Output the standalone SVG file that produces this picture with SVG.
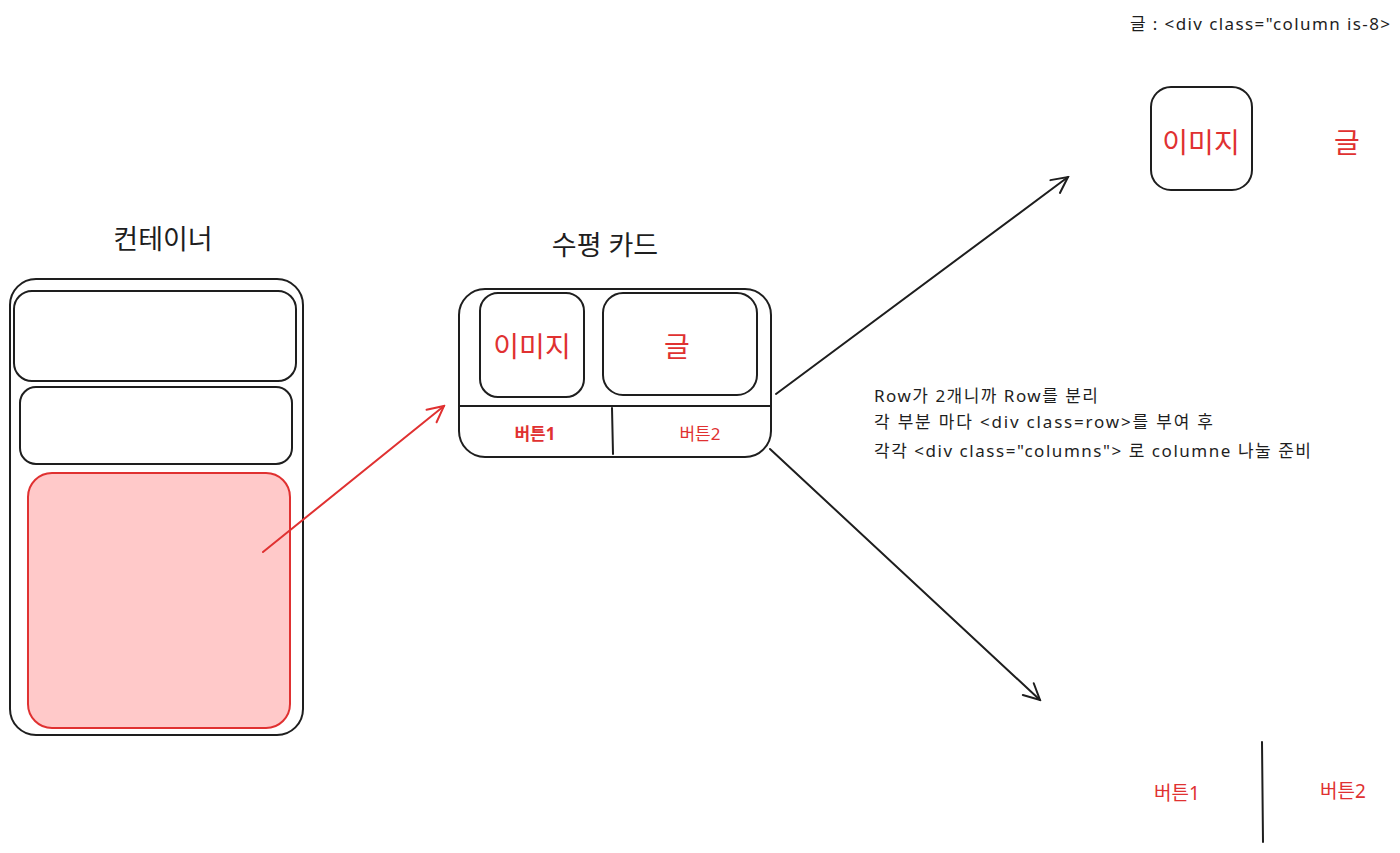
<svg xmlns="http://www.w3.org/2000/svg" width="1400" height="853" viewBox="0 0 1400 853">
  <style>
    .box { fill: none; stroke: #1e1e1e; stroke-width: 2; }
    .line { stroke: #1e1e1e; stroke-width: 2; fill: none; stroke-linecap: round; }
    .title { font-family: "Noto Sans", "Noto Sans CJK KR", sans-serif; font-size: 27px; fill: #1e1e1e; text-anchor: middle; }
    .lbl { font-family: "Noto Sans", "Noto Sans CJK KR", sans-serif; fill: #e03131; text-anchor: middle; }
    .note { font-family: "Noto Sans", "Noto Sans CJK KR", sans-serif; font-size: 17px; fill: #1e1e1e; }
  </style>
  <defs>
    <marker id="arrowBlack" viewBox="0 0 20 20" refX="18" refY="10" markerWidth="20" markerHeight="20" markerUnits="userSpaceOnUse" orient="auto">
      <path d="M2 2 L18 10 L2 18" fill="none" stroke="#1e1e1e" stroke-width="2" stroke-linecap="round"/>
    </marker>
    <marker id="arrowRed" viewBox="0 0 20 20" refX="18" refY="10" markerWidth="20" markerHeight="20" markerUnits="userSpaceOnUse" orient="auto">
      <path d="M2 2 L18 10 L2 18" fill="none" stroke="#e03131" stroke-width="2" stroke-linecap="round"/>
    </marker>
  </defs>
  <rect width="1400" height="853" fill="#ffffff"/>

  <!-- container column -->
  <g id="container">
    <text class="title" x="163" y="249">컨테이너</text>
    <rect class="box" x="10" y="279" width="293" height="456" rx="26"/>
    <rect class="box" x="14" y="291" width="282" height="90" rx="18"/>
    <rect class="box" x="20" y="387" width="272" height="77" rx="16"/>
    <rect x="28" y="473" width="262" height="255" rx="24" fill="#ffc9c9" stroke="#e03131" stroke-width="2"/>
  </g>

  <!-- horizontal card -->
  <g id="card">
    <text class="title" x="605" y="255">수평 카드</text>
    <rect class="box" x="459" y="289" width="312" height="168" rx="26"/>
    <rect class="box" x="480" y="293" width="104" height="104" rx="18" stroke-width="2.5"/>
    <rect class="box" x="603" y="293" width="154" height="102" rx="20"/>
    <line class="line" x1="460" y1="406" x2="770" y2="406" stroke-width="2.5"/>
    <line class="line" x1="612" y1="408" x2="613" y2="454"/>
    <text class="lbl" x="532" y="357" font-size="28">이미지</text>
    <text class="lbl" x="677" y="357" font-size="28">글</text>
    <text class="lbl" x="535" y="440" font-size="17" font-weight="bold">버튼1</text>
    <text class="lbl" x="700" y="440" font-size="17">버튼2</text>
  </g>

  <!-- row 1 split: image + text -->
  <g id="row-top">
    <text class="note" x="1130" y="30" textLength="260" lengthAdjust="spacing">글 : &lt;div class="column is-8&gt;</text>
    <rect class="box" x="1151" y="87" width="101" height="103" rx="20"/>
    <text class="lbl" x="1201" y="153" font-size="28">이미지</text>
    <text class="lbl" x="1347" y="153" font-size="28">글</text>
  </g>

  <!-- row 2 split: buttons -->
  <g id="row-bottom">
    <line class="line" x1="1262" y1="742" x2="1263" y2="842" stroke-width="2.5"/>
    <text class="lbl" x="1177" y="800" font-size="19">버튼1</text>
    <text class="lbl" x="1343" y="798" font-size="19">버튼2</text>
  </g>

  <!-- explanation -->
  <g id="note">
    <text class="note" x="874" y="402" textLength="224" lengthAdjust="spacing">Row가 2개니까 Row를 분리</text>
    <text class="note" x="874" y="428" textLength="339" lengthAdjust="spacing">각 부분 마다 &lt;div class=row&gt;를 부여 후</text>
    <text class="note" x="874" y="457" textLength="437" lengthAdjust="spacing">각각 &lt;div class="columns"&gt; 로 columne 나눌 준비</text>
  </g>

  <!-- connectors -->
  <g id="connectors">
    <line x1="263" y1="552" x2="444" y2="406" stroke="#e03131" stroke-width="2" stroke-linecap="round" marker-end="url(#arrowRed)"/>
    <line class="line" x1="776" y1="394" x2="1068" y2="177" marker-end="url(#arrowBlack)"/>
    <line class="line" x1="770" y1="449" x2="1040" y2="700" stroke-width="2.5" marker-end="url(#arrowBlack)"/>
  </g>
</svg>
